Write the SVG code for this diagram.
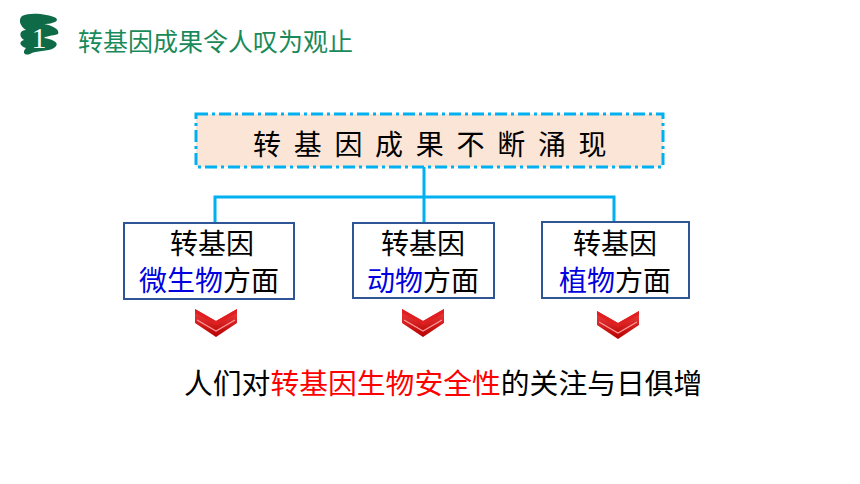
<svg xmlns="http://www.w3.org/2000/svg" width="860" height="484" viewBox="0 0 860 484">
<style>
.cjk{font-family:"Noto Sans CJK SC","Noto Sans",sans-serif}
.box{fill:#ffffff;stroke:#2F5597;stroke-width:2}
.bt{font-size:28px;fill:#000;text-anchor:middle}
.blue{fill:#0000E0}
.conn{stroke:#00B0F0;stroke-width:3;fill:none}
</style>
<defs>
<linearGradient id="chg" x1="0" y1="0" x2="0" y2="1">
<stop offset="0" stop-color="#F04040"/>
<stop offset="1" stop-color="#B80000"/>
</linearGradient>
<g id="chev">
<polygon points="-21,-14 0,-2 21,-14 21,0 0,14 -21,0" fill="url(#chg)"/>
<polyline points="-19,-3 0,8 19,-3" fill="none" stroke="#FF9A9A" stroke-width="1.2"/>
<polygon points="-21,-14 0,-2 21,-14 21,-10 0,2 -21,-10" fill="#E02020"/>
</g>
</defs>
<rect width="860" height="484" fill="#ffffff"/>
<g id="header">
<path d="M22,16 C30,12 48,14 56,18 C60,22 50,24 44,24 C54,26 60,30 58,34 C52,36 46,36 44,38 C56,40 60,44 54,48 C48,52 36,50 30,54 C24,56 22,52 26,48 C20,46 18,42 24,40 C18,36 20,30 26,30 C20,26 18,20 22,16 Z" fill="#0F6B47"/>
<text x="39" y="48" font-family="Liberation Serif,serif" font-size="30" fill="#ffffff" text-anchor="middle">1</text>
<text class="cjk" x="78" y="51" font-size="25" fill="#1A8A5A">转基因成果令人叹为观止</text>
</g>
<g id="connectors">
<line class="conn" x1="424" y1="167" x2="424" y2="223"/>
<polyline class="conn" points="215,222 215,197 614,197 614,222"/>
</g>
<g id="title">
<rect x="196" y="114" width="467" height="53" fill="#FBE5D6" stroke="#00B0F0" stroke-width="3" stroke-dasharray="12 4 3 4"/>
<text class="cjk" x="253" y="155" font-size="28" letter-spacing="12.7" fill="#000">转基因成果不断涌现</text>
</g>
<g id="n1">
<rect class="box" x="124" y="223" width="170" height="76"/>
<text class="cjk bt" x="212" y="254">转基因</text>
<text class="cjk bt" x="209" y="291"><tspan class="blue">微生物</tspan>方面</text>
</g>
<g id="n2">
<rect class="box" x="353" y="223" width="141" height="75"/>
<text class="cjk bt" x="423" y="254">转基因</text>
<text class="cjk bt" x="423" y="291"><tspan class="blue">动物</tspan>方面</text>
</g>
<g id="n3">
<rect class="box" x="542" y="222" width="147" height="76"/>
<text class="cjk bt" x="615" y="254">转基因</text>
<text class="cjk bt" x="615" y="291"><tspan class="blue">植物</tspan>方面</text>
</g>
<g id="arrows">
<use href="#chev" x="216" y="323"/>
<use href="#chev" x="423" y="323"/>
<use href="#chev" x="618" y="325"/>
</g>
<g id="conclusion">
<text class="cjk" x="184" y="394" font-size="28.8" fill="#000">人们对<tspan fill="#FF0000">转基因生物安全性</tspan>的关注与日俱增</text>
</g>
</svg>
